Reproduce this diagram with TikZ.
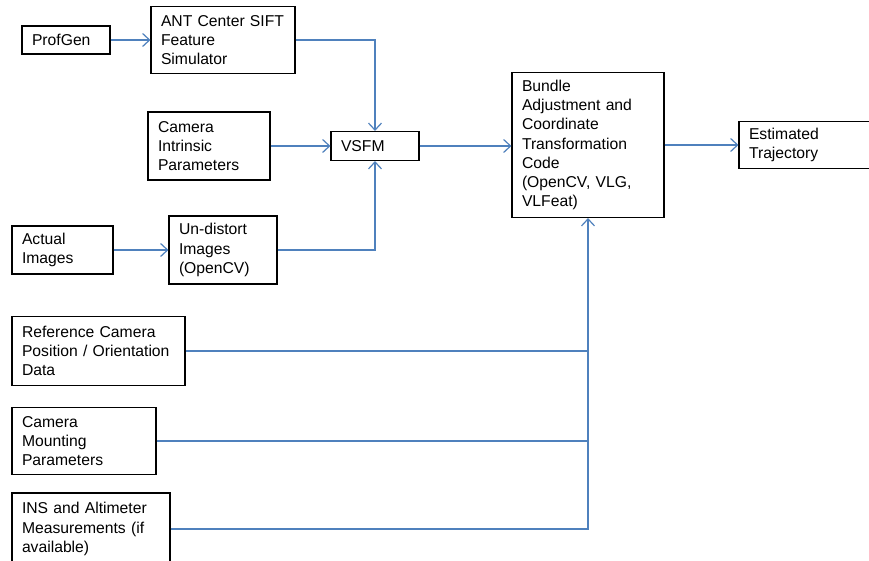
\documentclass[tikz,border=0pt]{standalone}
\usepackage{fontspec}
\setmainfont{Liberation Sans}
\usetikzlibrary{arrows.meta}

\definecolor{linkblue}{RGB}{79,129,189}

\begin{document}
\begin{tikzpicture}[x=1pt, y=-1pt,
    font=\fontsize{15.7}{19.3}\selectfont,
    block/.style={draw, line width=1.1pt, align=left, inner xsep=10pt, inner ysep=0pt},
    link/.style={draw=linkblue, line width=1.5pt},
    arr/.style={link, -{Straight Barb[length=7pt, width=13pt, line width=1.2pt]}}]

    \useasboundingbox (0,0) rectangle (869,561);
    \fill[white] (0,0) rectangle (869,561);
    \clip (0,0) rectangle (869,561);

    % Inputs
    \node[block, text width=68pt,  minimum height=28pt] (profgen)   at (66,40)     {ProfGen};
    \node[block, text width=124pt, minimum height=67pt] (ant)       at (223,40)    {ANT Center SIFT\\Feature\\Simulator};
    \node[block, text width=102pt, minimum height=68pt] (intrinsic) at (209,146)   {Camera\\Intrinsic\\Parameters};
    \node[block, text width=81pt,  minimum height=48pt] (actual)    at (62.5,250)  {Actual\\Images};
    \node[block, text width=88pt,  minimum height=68pt] (undistort) at (223,250)   {Un-distort\\Images\\(OpenCV)};
    \node[block, text width=153pt, minimum height=69pt] (reference) at (98.5,351)  {Reference Camera\\Position / Orientation\\Data};
    \node[block, text width=124pt, minimum height=67pt] (mounting)  at (84,441)    {Camera\\Mounting\\Parameters};
    \node[block, text width=138pt, minimum height=72pt] (ins)       at (91,529)    {INS and Altimeter\\Measurements (if\\available)};

    % Processing
    \node[block, text width=68pt,  minimum height=29pt] (vsfm)      at (375,146)   {VSFM};
    \node[block, text width=132pt, minimum height=145pt] (bundle)   at (588,145)   {Bundle\\Adjustment and\\Coordinate\\Transformation\\Code\\(OpenCV, VLG,\\VLFeat)};
    \node[block, text width=121pt, minimum height=47pt] (estimated) at (809.5,145) {Estimated\\Trajectory};

    % Connectors
    \draw[arr] (profgen.east) -- (profgen.east -| ant.west);
    \draw[arr] (ant.east) -| (vsfm.north);
    \draw[arr] (intrinsic.east) -- (intrinsic.east -| vsfm.west);
    \draw[arr] (actual.east) -- (actual.east -| undistort.west);
    \draw[arr] (undistort.east) -| (vsfm.south);
    \draw[arr] (vsfm.east) -- (vsfm.east -| bundle.west);
    \draw[arr] (bundle.east) -- (bundle.east -| estimated.west);

    \draw[link] (reference.east) -- (reference.east -| bundle.south);
    \draw[link] (mounting.east) -- (mounting.east -| bundle.south);
    \draw[arr] (ins.east) -| (bundle.south);

\end{tikzpicture}
\end{document}
